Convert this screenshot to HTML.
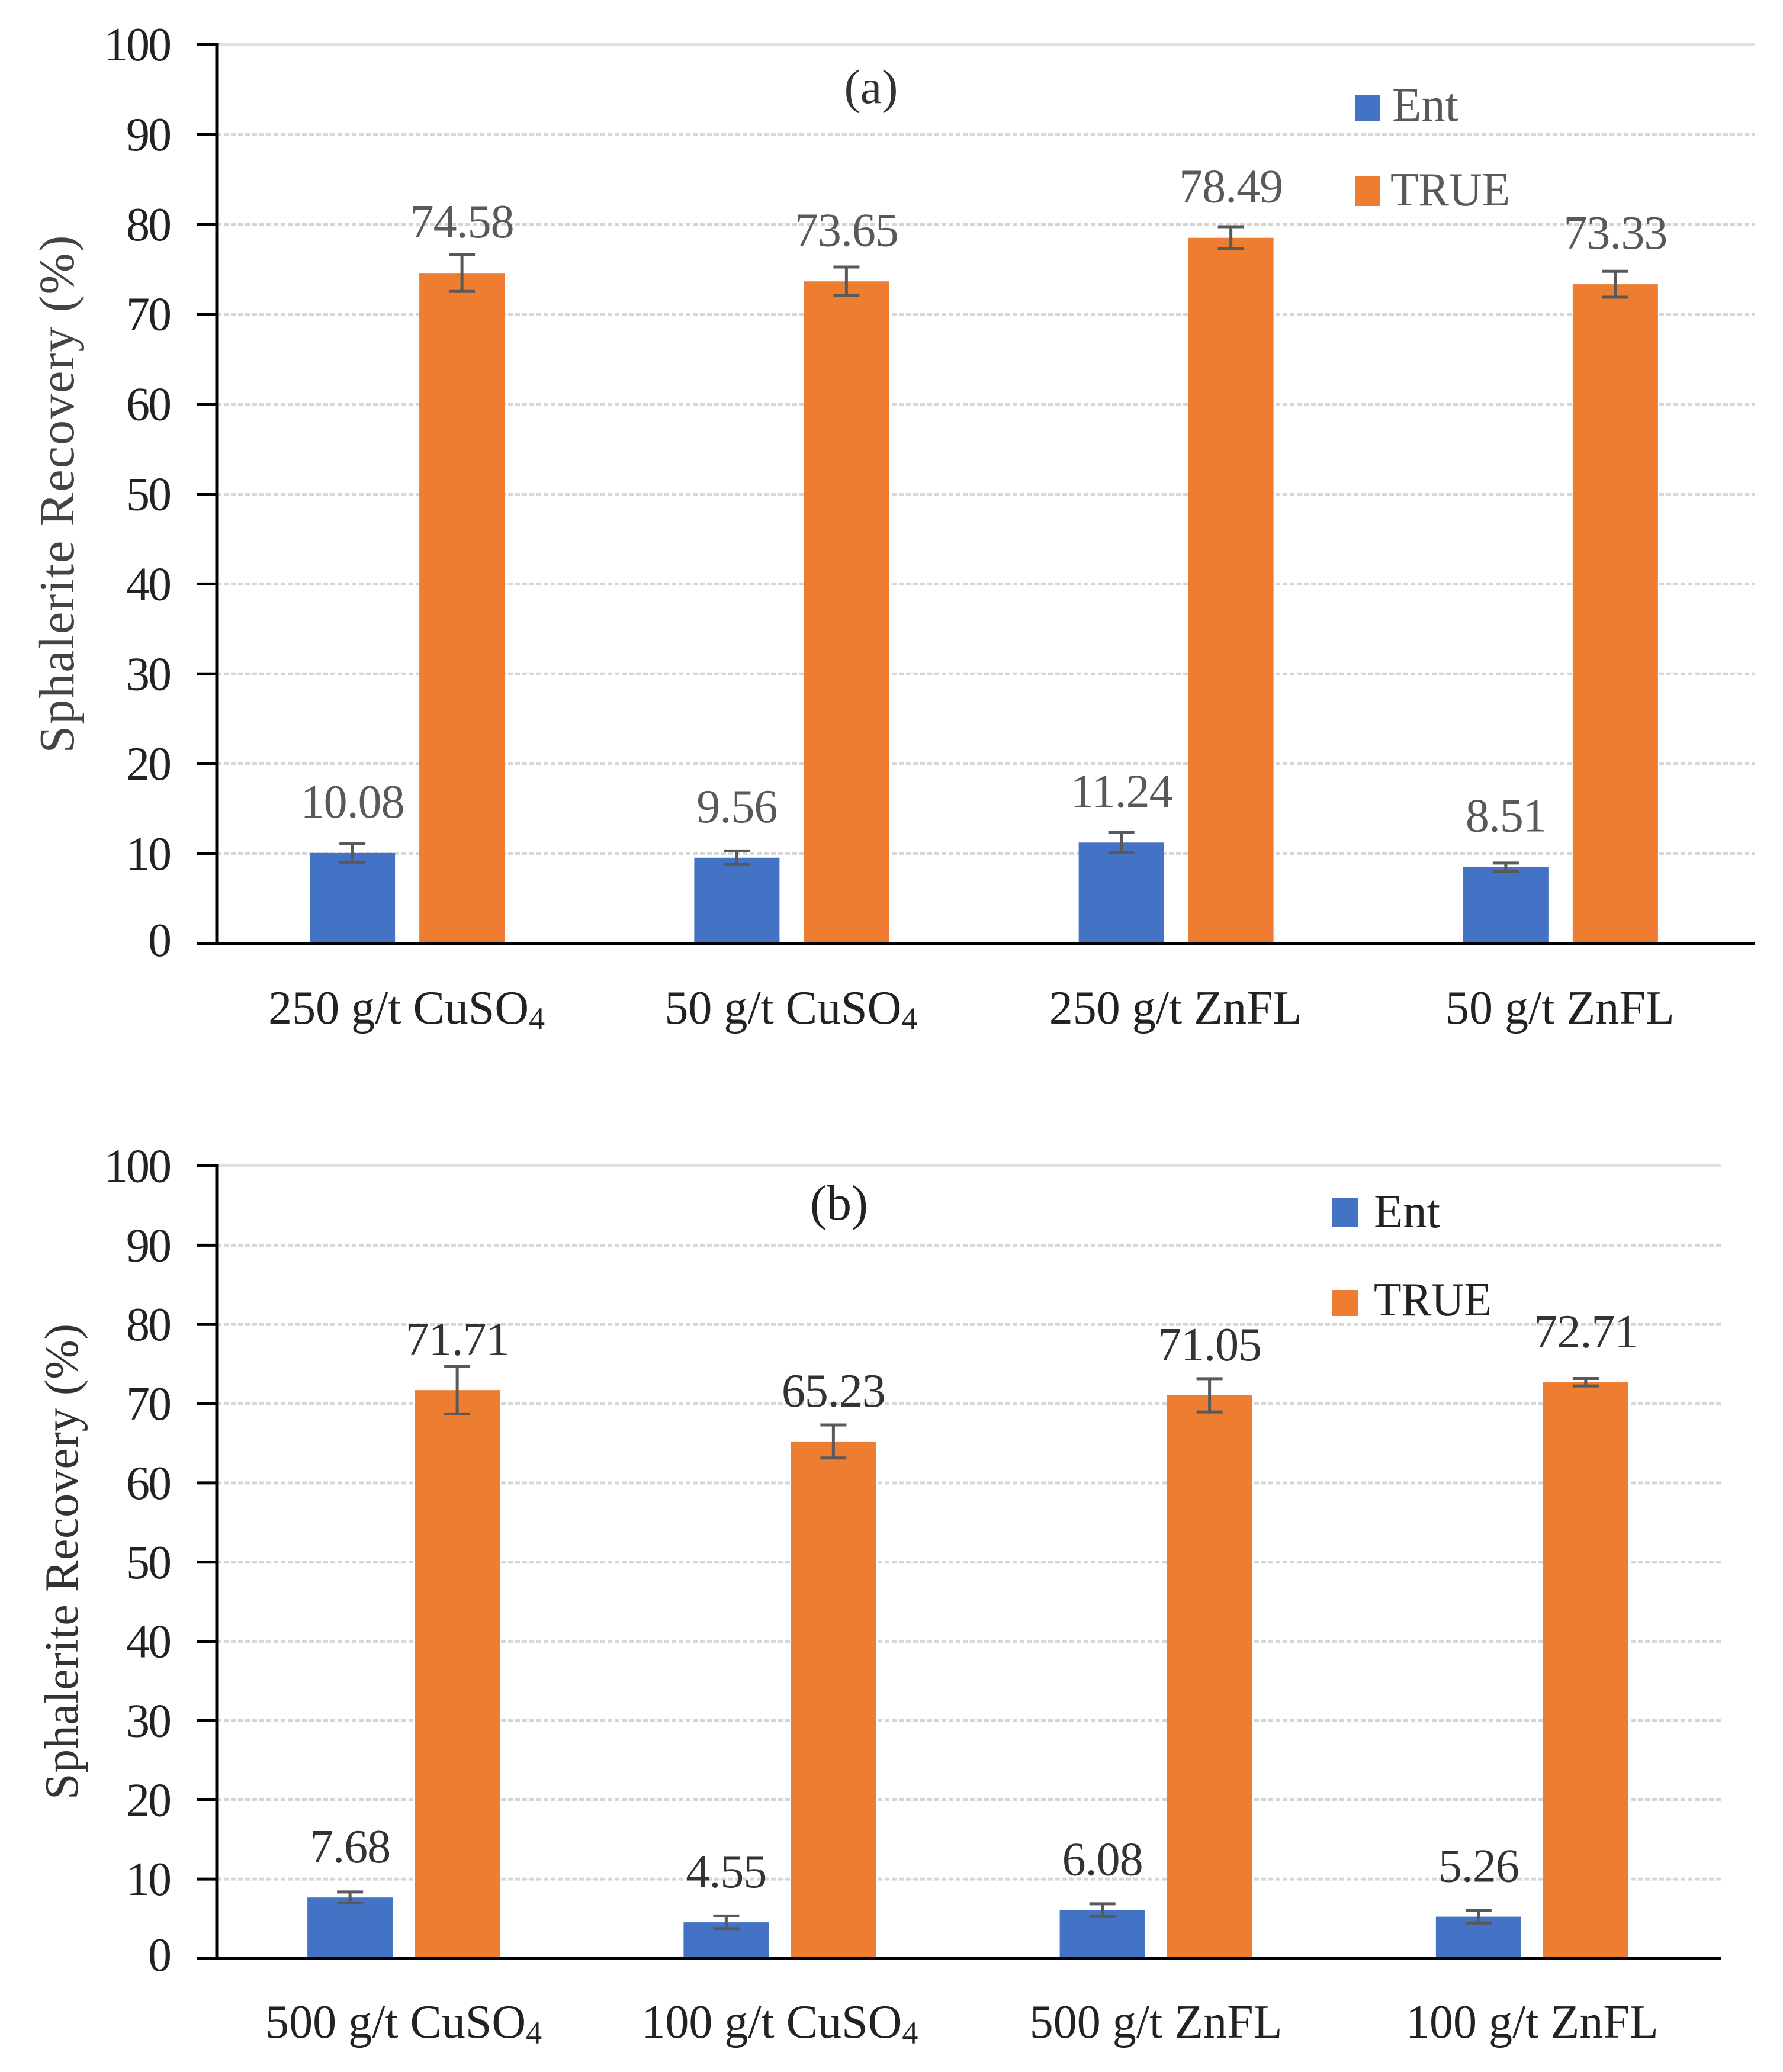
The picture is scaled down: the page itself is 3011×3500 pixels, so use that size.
<!DOCTYPE html>
<html>
<head>
<meta charset="utf-8">
<title>Sphalerite Recovery</title>
<style>
html,body{margin:0;padding:0;background:#fff;width:3011px;height:3500px;overflow:hidden}
svg{display:block}
text{font-family:"Liberation Serif",serif}
</style>
</head>
<body>
<svg id="figure" xmlns="http://www.w3.org/2000/svg" width="3011" height="3500" viewBox="0 0 3011 3500">
  <rect width="3011" height="3500" fill="#ffffff"/>
  <g id="chart-a"></g>
  <g id="chart-b"></g>

  <text transform="translate(124,835) rotate(-90)" text-anchor="middle" font-size="84" fill="#444" textLength="875" lengthAdjust="spacing">Sphalerite Recovery (%)</text>
  <text x="1471" y="174" text-anchor="middle" font-size="82" fill="#333">(a)</text>
  <rect x="2288" y="160" width="43" height="44" fill="#4472c4"/>
  <text x="2351" y="204" font-size="80" fill="#595959" textLength="112" lengthAdjust="spacingAndGlyphs">Ent</text>
  <rect x="2288" y="298" width="43" height="50" fill="#ed7d31"/>
  <text x="2348" y="347" font-size="80" fill="#595959" textLength="202" lengthAdjust="spacingAndGlyphs">TRUE</text>

  <text transform="translate(131,2638) rotate(-90)" text-anchor="middle" font-size="80" fill="#333" textLength="804" lengthAdjust="spacing">Sphalerite Recovery (%)</text>
  <text x="1417" y="2060" text-anchor="middle" font-size="84" fill="#222">(b)</text>
  <rect x="2250" y="2023" width="44" height="50" fill="#4472c4"/>
  <text x="2320" y="2073" font-size="80" fill="#222" textLength="112" lengthAdjust="spacingAndGlyphs">Ent</text>
  <rect x="2250" y="2179" width="44" height="44" fill="#ed7d31"/>
  <text x="2320" y="2222" font-size="80" fill="#222" textLength="199" lengthAdjust="spacingAndGlyphs">TRUE</text>
</svg>
<script>
var yTickValues = [0, 10, 20, 30, 40, 50, 60, 70, 80, 90, 100];
var yTickLabels = ['0', '10', '20', '30', '40', '50', '60', '70', '80', '90', '100'];

var categoriesA = ['250 g/t CuSO4', '50 g/t CuSO4', '250 g/t ZnFL', '50 g/t ZnFL'];
var entValuesA = [10.08, 9.56, 11.24, 8.51];
var trueValuesA = [74.58, 73.65, 78.49, 73.33];
var entErrorsA = [1.02, 0.75, 1.1, 0.45];
var trueErrorsA = [2.05, 1.6, 1.23, 1.44];

var categoriesB = ['500 g/t CuSO4', '100 g/t CuSO4', '500 g/t ZnFL', '100 g/t ZnFL'];
var entValuesB = [7.68, 4.55, 6.08, 5.26];
var trueValuesB = [71.71, 65.23, 71.05, 72.71];
var entErrorsB = [0.7, 0.8, 0.8, 0.8];
var trueErrorsB = [3.0, 2.08, 2.1, 0.47];

var SVG_NS = 'http://www.w3.org/2000/svg';

function make(tag, attrs, parent) {
  var el = document.createElementNS(SVG_NS, tag);
  for (var k in attrs) { el.setAttribute(k, attrs[k]); }
  parent.appendChild(el);
  return el;
}

function drawChart(root, suffix, cfg, categories, entValues, trueValues, entErrors, trueErrors) {
  var band = (cfg.right - cfg.left) / categories.length;
  function yScale(v) { return cfg.y0 - (v / 100) * (cfg.y0 - cfg.y100); }
  function xCenter(i) { return cfg.left + (i + 0.5) * band + cfg.centerShift; }

  yTickValues.forEach(function (v, i) {
    var y = yScale(v);
    if (v !== 0) {
      var grid = make('line', {x1: cfg.left, x2: cfg.right, y1: y, y2: y, stroke: v === 100 ? '#e0e0e0' : '#d6d6d6', 'stroke-width': 5, 'stroke-dasharray': v === 100 ? 'none' : '8 4'}, root);
      
      
    }
    var tick = make('line', {x1: cfg.left - 34, x2: cfg.left, y1: y, y2: y, stroke: '#000', 'stroke-width': 5}, root);
    
    
    var label = make('text', {x: 287, y: y + (v === 0 ? 21 : 27), 'text-anchor': 'end', 'font-size': 80, 'letter-spacing': -3, fill: '#222'}, root);
    label.textContent = yTickLabels[i];
    
    
  });

  categories.forEach(function (cat, i) {
    var cx = xCenter(i);
    [
      {key: 'ent', values: entValues, errors: entErrors, color: '#4472c4', dx: -cfg.barOffset},
      {key: 'true', values: trueValues, errors: trueErrors, color: '#ed7d31', dx: cfg.barOffset}
    ].forEach(function (s) {
      var v = s.values[i];
      var e = s.errors[i];
      var bx = cx + s.dx;
      var top = yScale(v);
      var bar = make('rect', {x: bx - cfg.barWidth / 2, y: top, width: cfg.barWidth, height: cfg.y0 - top, fill: s.color}, root);
      
      

      var yHi = yScale(v + e);
      var yLo = yScale(v - e);
      var stem = make('path', {d: 'M' + (bx - 22) + ' ' + yHi + 'H' + (bx + 22) + 'M' + bx + ' ' + yHi + 'V' + yLo + 'M' + (bx - 22) + ' ' + yLo + 'H' + (bx + 22), fill: 'none', stroke: '#595959', 'stroke-width': 5}, root);
      
      

      var val = make('text', {x: bx, y: top - cfg.labelGap, 'text-anchor': 'middle', 'font-size': 80, 'letter-spacing': -1, fill: cfg.valueColor}, root);
      val.textContent = v.toFixed(2);
      
      
    });

    var catText = make('text', {x: cx - cfg.catShift, y: cfg.catBaseline, 'text-anchor': 'middle', 'font-size': 80, fill: '#222'}, root);
    
    
    var m = /^(.*SO)4$/.exec(cat);
    if (m) {
      var main = make('tspan', {}, catText);
      main.textContent = m[1];
      
      
      var sub = make('tspan', {dy: 10, 'font-size': 54}, catText);
      sub.textContent = '4';
      
      
    } else {
      catText.textContent = cat;
    }
  });

  var yAxis = make('line', {x1: cfg.left, x2: cfg.left, y1: cfg.y100 - 2.5, y2: cfg.y0, stroke: '#000', 'stroke-width': 5}, root);
  
  
  var xAxis = make('line', {x1: cfg.left - 34, x2: cfg.right, y1: cfg.y0, y2: cfg.y0, stroke: '#000', 'stroke-width': 5}, root);
  
  
}

drawChart(document.getElementById('chart-a'), 'a',
  {left: 366, right: 2963, y0: 1594, y100: 75, centerShift: -3, barOffset: 92.5, barWidth: 144, labelGap: 60, valueColor: '#595959', catBaseline: 1729, catShift: 1},
  categoriesA, entValuesA, trueValuesA, entErrorsA, trueErrorsA);

drawChart(document.getElementById('chart-b'), 'b',
  {left: 366, right: 2907, y0: 3308, y100: 1969.5, centerShift: -2, barOffset: 90.5, barWidth: 144, labelGap: 59, valueColor: '#333333', catBaseline: 3442, catShift: 0},
  categoriesB, entValuesB, trueValuesB, entErrorsB, trueErrorsB);
</script>
</body>
</html>
